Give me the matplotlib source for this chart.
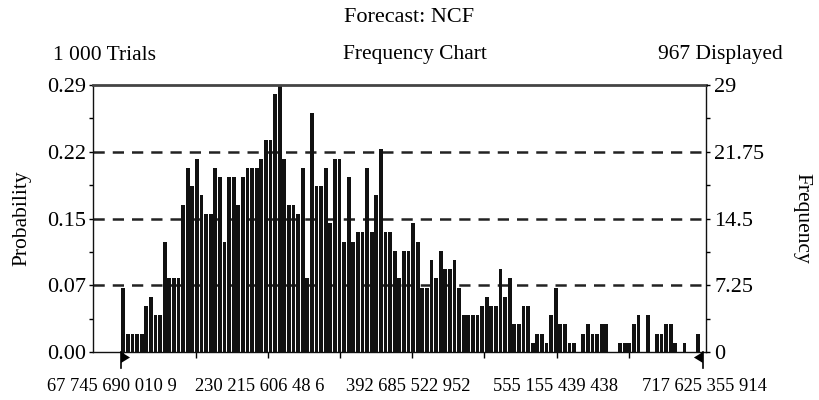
import matplotlib
matplotlib.use("Agg")
import matplotlib.pyplot as plt
import numpy as np

# ---- data ----
counts = [7, 2, 2, 2, 2, 5, 6, 4, 4, 12,
          8, 8, 8, 16, 20, 18, 21, 17, 15, 15,
          20, 19, 12, 19, 19, 16, 19, 20, 20, 20,
          21, 23, 23, 28, 29, 21, 16, 16, 15, 20,
          8, 26, 18, 18, 20, 14, 21, 21, 12, 19,
          12, 13, 13, 20, 13, 17, 22, 13, 13, 11,
          8, 11, 11, 14, 12, 7, 7, 10, 8, 11,
          9, 9, 10, 7, 4, 4, 4, 4, 5, 6,
          5, 5, 9, 6, 8, 3, 3, 5, 5, 1,
          2, 2, 1, 4, 7, 3, 3, 1, 1, 0,
          2, 3, 2, 2, 3, 3, 0, 0, 1, 1,
          1, 3, 4, 0, 4, 0, 2, 2, 3, 3,
          1, 0, 1, 0, 0, 2]
left_tick_labels = ["0.00", "0.07", "0.15", "0.22", "0.29"]
right_tick_labels = ["0", "7.25", "14.5", "21.75", "29"]
freq_ticks = [0, 7.25, 14.5, 21.75, 29]
x_labels = ["67 745 690 010 9", "230 215 606 48 6", "392 685 522 952",
            "555 155 439 438", "717 625 355 914"]
title = "Forecast: NCF"
trials_text = "1 000 Trials"
chart_text = "Frequency Chart"
displayed_text = "967 Displayed"

plt.rcParams['font.family'] = ['Liberation Serif', 'DejaVu Serif']
FS_T = 15.5
FS_Y = 16
FS_X = 13.3

fig = plt.figure(figsize=(8.19, 4.0), dpi=100)
ax = fig.add_axes([93/819, 48/400, (706-93)/819, (352-85)/400])

n = len(counts)
x = np.arange(n)
ax.bar(x, counts, width=0.82, color="#111111", linewidth=0, zorder=2)

# layout in bin units
px_per_bin = 4.6
x0 = -(123.3 - 93) / px_per_bin
x1 = (706 - 123.3) / px_per_bin
ax.set_xlim(x0, x1)
ax.set_ylim(0, 29)

for yv in freq_ticks[1:4]:
    ax.axhline(yv, color="#222222", lw=1.8, ls=(0, (4.5, 3.2)), zorder=1)

# left axis
ax.set_yticks(freq_ticks)
ax.set_yticklabels(left_tick_labels, fontsize=FS_Y)
ax.set_yticks(np.arange(0, 29.01, 3.625), minor=True)
ax.tick_params(axis='y', which='both', direction='out', length=3, width=1, pad=2)

# x axis
step = 15.7
ax.set_xticks(np.arange(9) * step, minor=True)
lab_pos = [-2.4, 29.7, 61.9, 94.0, 126.4]
ax.set_xticks(lab_pos)
ax.set_xticklabels(x_labels, fontsize=FS_X)
ax.tick_params(axis='x', which='major', length=0, pad=19)
ax.tick_params(axis='x', which='minor', direction='out', length=4, width=1)

for s in ["left", "right", "bottom"]:
    ax.spines[s].set_linewidth(1.0)
    ax.spines[s].set_color("#111111")
ax.spines["top"].set_linewidth(2.0)
ax.spines["top"].set_color("#444444")

ax.set_ylabel("Probability", fontsize=FS_T, labelpad=11)

# right axis
ax2 = ax.twinx()
ax2.set_ylim(0, 29)
ax2.set_yticks(freq_ticks)
ax2.set_yticklabels(right_tick_labels, fontsize=FS_Y)
ax2.set_yticks(np.arange(0, 29.01, 3.625), minor=True)
ax2.tick_params(axis='y', which='both', direction='out', length=3, width=1, pad=3)
ax2.set_ylabel("Frequency", fontsize=FS_T, rotation=270, labelpad=34)
for s in ax2.spines.values():
    s.set_visible(False)

# certainty grabbers
yb = -16 / 9.2
th = -11 / 9.2
tw = 9 / px_per_bin
for xe, d in [(-0.5, 1), (n, -1)]:
    ax.plot([xe, xe], [0, yb], color="black", lw=1.2, clip_on=False, zorder=5)
    ax.fill([xe, xe, xe + d * tw], [0, th, th / 2], color="black",
            clip_on=False, zorder=5, lw=0)

# titles
fig.text(409/819, 1 - 18/400, title, ha="center", va="center", fontsize=16)
fig.text(53/819, 1 - 55/400, trials_text, ha="left", va="center", fontsize=FS_T)
fig.text(415/819, 1 - 55/400, chart_text, ha="center", va="center", fontsize=FS_T)
fig.text(783/819, 1 - 55/400, displayed_text, ha="right", va="center", fontsize=FS_T)

fig.savefig("out.png", dpi=100)
